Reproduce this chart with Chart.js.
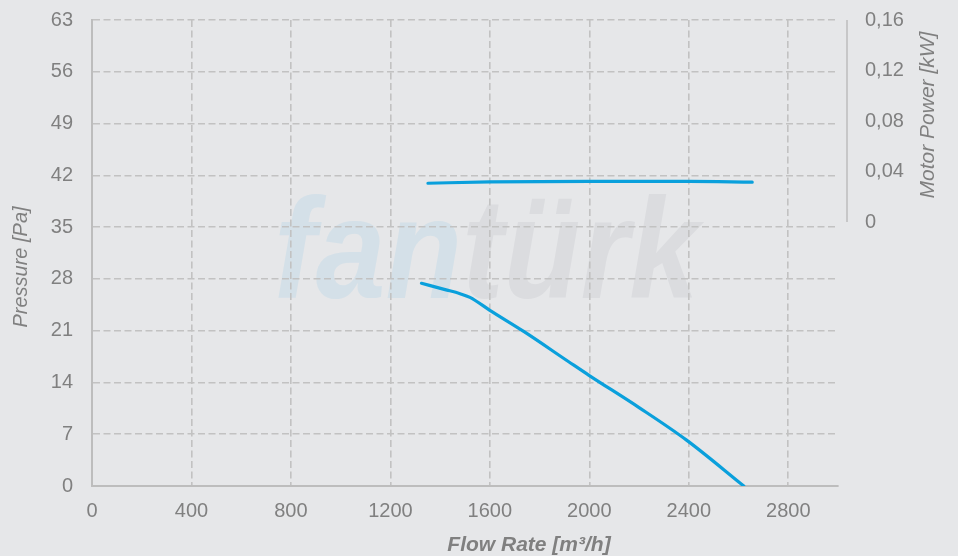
<!DOCTYPE html>
<html>
<head>
<meta charset="utf-8">
<script src="https://cdn.jsdelivr.net/npm/chart.js@4/dist/chart.umd.min.js"></script>
<style>
  html, body { margin: 0; padding: 0; background: #e6e7e9; }
  #wrap { width: 958px; height: 556px; }
</style>
</head>
<body>
<div id="wrap"><canvas id="chart" width="958" height="556"></canvas></div>
<script>
// values
const flowPressure = [1325, 1420, 1480, 1520, 1600, 1736, 1917, 1997, 2200, 2391, 2621];
const pressure = [27.4, 26.55, 26.0, 25.5, 23.75, 20.9, 16.8, 15.0, 10.6, 6.2, 0];

const flowPower = [1351, 1600, 2000, 2400, 2655];
const power = [0.0307, 0.0318, 0.0322, 0.0322, 0.0316];

const flowTicks = [0, 400, 800, 1200, 1600, 2000, 2400, 2800];
const pressureTicks = [0, 7, 14, 21, 28, 35, 42, 49, 56, 63];
const powerTicks = [0, 0.04, 0.08, 0.12, 0.16];

const bg = '#e6e7e9';
const textColor = '#808080';
const gridColor = '#c2c2c2';
const axisColor = '#bdbdbd';
const lineColor = '#0aa0dc';
const font = '"Liberation Sans", Arial, sans-serif';

const toTicks = (arr) => (scale) => { scale.ticks = arr.map(v => ({ value: v })); };
const noPad = (s) => { s.paddingTop = 0; s.paddingBottom = 0; s.paddingLeft = 0; s.paddingRight = 0; };

const decor = {
    id: 'decor',
    beforeDraw(chart) {
        const { ctx } = chart;
        ctx.save();
        ctx.fillStyle = bg;
        ctx.fillRect(0, 0, chart.width, chart.height);
        // watermark, a bit condensed like the logo
        ctx.font = 'italic bold 142px ' + font;
        ctx.textBaseline = 'alphabetic';
        ctx.textAlign = 'left';
        const x0 = 274, y0 = 298;
        const w1 = ctx.measureText('fan').width;
        const w2 = ctx.measureText('türk').width;
        const sx = 425 / (w1 + w2);
        ctx.translate(x0, y0);
        ctx.scale(sx, 1);
        ctx.fillStyle = '#d4e0e8';
        ctx.fillText('fan', 0, 0);
        ctx.fillStyle = '#dbdcdf';
        ctx.fillText('türk', w1, 0);
        ctx.restore();
    },
    afterDraw(chart) {
        const { ctx, chartArea } = chart;
        const yR = chart.scales.yPower;
        ctx.save();
        // short right axis line
        ctx.strokeStyle = axisColor;
        ctx.lineWidth = 1.5;
        ctx.beginPath();
        const xr = chartArea.right + 9;
        ctx.moveTo(xr, yR.getPixelForValue(powerTicks[powerTicks.length - 1]));
        ctx.lineTo(xr, yR.getPixelForValue(0));
        ctx.stroke();

        ctx.fillStyle = textColor;
        ctx.textAlign = 'center';
        ctx.textBaseline = 'middle';

        // left title
        ctx.save();
        ctx.translate(21, 267);
        ctx.rotate(-Math.PI / 2);
        ctx.font = 'italic 20px ' + font;
        ctx.fillText('Pressure [Pa]', 0, 0);
        ctx.restore();

        // right title
        ctx.save();
        ctx.translate(928, 115);
        ctx.rotate(-Math.PI / 2);
        ctx.font = 'italic 21px ' + font;
        ctx.fillText('Motor Power [kW]', 0, 0);
        ctx.restore();

        // bottom title
        ctx.font = 'italic bold 21px ' + font;
        ctx.textBaseline = 'alphabetic';
        ctx.fillText('Flow Rate [m³/h]', 529, 551);
        ctx.restore();
    }
};

const ctx = document.getElementById('chart').getContext('2d');
const chart = new Chart(ctx, {
    type: 'line',
    data: {
        datasets: [
            {
                data: flowPressure.map((x, i) => ({ x, y: pressure[i] })),
                yAxisID: 'y',
                borderColor: lineColor,
                borderWidth: 3.2,
                pointRadius: 0,
                cubicInterpolationMode: 'monotone',
                borderCapStyle: 'round',
            },
            {
                data: flowPower.map((x, i) => ({ x, y: power[i] })),
                yAxisID: 'yPower',
                borderColor: lineColor,
                borderWidth: 3.2,
                pointRadius: 0,
                cubicInterpolationMode: 'monotone',
                borderCapStyle: 'round',
            }
        ]
    },
    options: {
        responsive: false,
        animation: false,
        layout: { padding: { top: 20, left: 0, right: 0, bottom: 0 } },
        plugins: {
            legend: { display: false },
            tooltip: { enabled: false },
        },
        scales: {
            x: {
                type: 'linear',
                min: 0,
                max: 3000,
                afterBuildTicks: toTicks(flowTicks),
                afterFit: (s) => { s.height = 70; noPad(s); },
                grid: {
                    color: gridColor,
                    lineWidth: 1.6,
                    drawTicks: false,
                },
                border: { display: true, color: axisColor, width: 2, dash: [7, 3.5] },
                ticks: {
                    color: textColor,
                    padding: 13,
                    maxRotation: 0,
                    font: { size: 20, family: font },
                    callback: (v) => String(v),
                },
            },
            y: {
                position: 'left',
                min: 0,
                max: 63,
                afterBuildTicks: toTicks(pressureTicks),
                afterFit: (s) => { s.width = 92; noPad(s); },
                grid: {
                    color: gridColor,
                    lineWidth: 1.6,
                    drawTicks: false,
                },
                border: { display: true, color: axisColor, width: 2, dash: [7, 3.5] },
                ticks: {
                    color: textColor,
                    padding: 19,
                    font: { size: 20, family: font },
                    callback: (v) => String(v),
                },
            },
            yPower: {
                position: 'right',
                min: -0.2091,
                max: 0.16,
                afterBuildTicks: toTicks(powerTicks),
                afterFit: (s) => { s.width = 120; noPad(s); },
                grid: { display: false, drawTicks: false },
                border: { display: false },
                ticks: {
                    color: textColor,
                    padding: 27,
                    font: { size: 20, family: font },
                    callback: (v) => v === 0 ? '0' : v.toFixed(2).replace('.', ','),
                },
            },
        }
    },
    plugins: [decor]
});
</script>
</body>
</html>
